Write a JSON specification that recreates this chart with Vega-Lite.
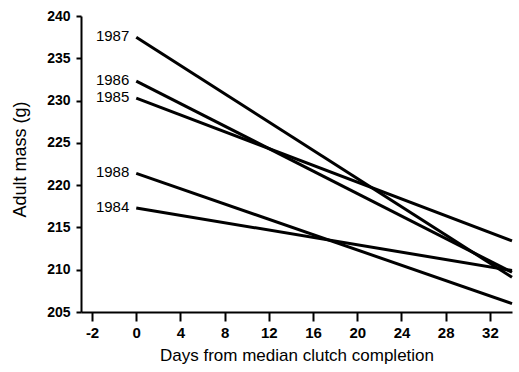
{
  "$schema": "https://vega.github.io/schema/vega-lite/v6.json",
  "width": 431,
  "height": 296,
  "autosize": {"type": "none"},
  "padding": {"left": 81, "top": 16, "right": 7, "bottom": 60},
  "background": "white",
  "config": {
    "view": {"stroke": null},
    "font": "Liberation Sans",
    "axis": {"grid": false, "domainColor": "black", "tickColor": "black", "labelColor": "black", "titleColor": "black", "domainWidth": 2, "tickWidth": 2, "labelFont": "Liberation Sans", "titleFont": "Liberation Sans", "titleFontWeight": "normal"}
  },
  "datasets": {
    "lines": [
      {"year": "1987", "day": 0, "mass": 237.5},
      {"year": "1987", "day": 34, "mass": 209.1},
      {"year": "1986", "day": 0, "mass": 232.3},
      {"year": "1986", "day": 34, "mass": 209.7},
      {"year": "1985", "day": 0, "mass": 230.3},
      {"year": "1985", "day": 34, "mass": 213.4},
      {"year": "1988", "day": 0, "mass": 221.4},
      {"year": "1988", "day": 34, "mass": 206.0},
      {"year": "1984", "day": 0, "mass": 217.3},
      {"year": "1984", "day": 34, "mass": 209.9}
    ],
    "labels": [
      {"year": "1987", "day": 0, "mass": 237.5},
      {"year": "1986", "day": 0, "mass": 232.3},
      {"year": "1985", "day": 0, "mass": 230.3},
      {"year": "1988", "day": 0, "mass": 221.4},
      {"year": "1984", "day": 0, "mass": 217.3}
    ]
  },
  "layer": [
    {
      "data": {"name": "lines"},
      "mark": {"type": "line", "color": "black", "strokeWidth": 3, "strokeCap": "butt"},
      "encoding": {
        "x": {
          "field": "day", "type": "quantitative",
          "title": "Days from median clutch completion",
          "scale": {"domain": [-5, 34], "nice": false, "zero": false},
          "axis": {
            "orient": "bottom",
            "values": [-4, -2, 0, 2, 4, 6, 8, 10, 12, 14, 16, 18, 20, 22, 24, 26, 28, 30, 32, 34],
            "labelExpr": "datum.value == -4 ? '-2' : (datum.value % 4 == 0 ? datum.label : '')",
            "tickSize": {"condition": {"test": "datum.value % 4 == 0", "value": 9}, "value": 5},
            "labelPadding": 4, "labelFontSize": 15, "labelFontWeight": 600, "labelFlush": false, "labelOverlap": false,
            "titleFontSize": 17, "titleY": 48, "titleBaseline": "alphabetic"
          }
        },
        "y": {
          "field": "mass", "type": "quantitative",
          "title": "Adult mass (g)",
          "scale": {"domain": [205, 240], "nice": false, "zero": false},
          "axis": {
            "values": [205, 210, 215, 220, 225, 230, 235, 240],
            "tickSize": 5, "labelPadding": 6, "labelFontSize": 14, "labelFontWeight": 600,
            "titleFontSize": 18, "titleX": -61, "titleY": 143, "titleBaseline": "middle", "titleAlign": "center"
          }
        },
        "detail": {"field": "year"}
      }
    },
    {
      "data": {"name": "labels"},
      "mark": {"type": "text", "align": "right", "baseline": "middle", "dx": -7, "dy": -1, "fontSize": 15, "color": "black", "font": "Liberation Sans"},
      "encoding": {
        "x": {"field": "day", "type": "quantitative", "title": "Days from median clutch completion"},
        "y": {"field": "mass", "type": "quantitative", "title": "Adult mass (g)"},
        "text": {"field": "year"}
      }
    }
  ]
}
